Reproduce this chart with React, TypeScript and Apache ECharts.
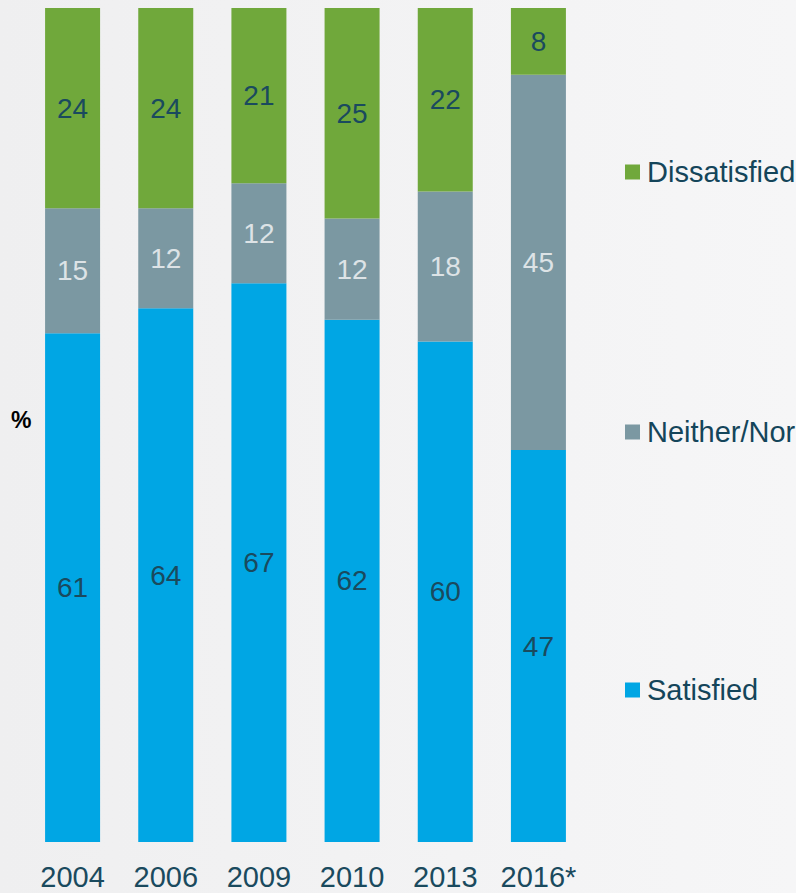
import React, { useEffect, useRef } from "react";
import * as echarts from "echarts";

const years = ["2004", "2006", "2009", "2010", "2013", "2016*"];
const satisfied = [61, 64, 67, 62, 60, 47];
const neither = [15, 12, 12, 12, 18, 45];
const dissatisfied = [24, 24, 21, 25, 22, 8];

const seriesNames = ["Satisfied", "Neither/Nor", "Dissatisfied"];
const seriesColors = ["#00a6e4", "#7b98a2", "#70a83b"];
const labelColors = ["#1a4a5e", "#dde3e6", "#1a4a5e"];

const FONT = "Liberation Sans";

export default function App() {
  const ref = useRef<HTMLDivElement>(null);

  useEffect(() => {
    if (!ref.current) return;
    const chart = echarts.init(ref.current, null, { renderer: "svg" });
    const raw = [satisfied, neither, dissatisfied];
    const totals = years.map((_, i) => raw.reduce((s, arr) => s + arr[i], 0));

    const series = raw.map((arr, k) => ({
      name: seriesNames[k],
      type: "bar",
      stack: "total",
      barWidth: 55,
      itemStyle: { color: seriesColors[k] },
      label: {
        show: true,
        position: "inside",
        fontSize: 28,
        fontFamily: FONT,
        color: labelColors[k],
        formatter: (p: any) => String(arr[p.dataIndex]),
      },
      data: arr.map((v, i) => (v / totals[i]) * 100),
    }));

    const legendTops = [690, 432, 172];
    const legends = seriesNames.map((n, k) => ({
      show: true,
      data: [n],
      orient: "vertical",
      left: 625,
      top: legendTops[k] - 16,
      padding: 0,
      icon: "rect",
      itemWidth: 15,
      itemHeight: 15,
      itemGap: 7,
      selectedMode: false,
      textStyle: {
        fontSize: 29,
        lineHeight: 32,
        fontFamily: FONT,
        color: "#14455a",
        padding: [0, 0, 0, 2],
      },
    }));

    chart.setOption({
      animation: false,
      backgroundColor: {
        type: "linear",
        x: 0,
        y: 0,
        x2: 1,
        y2: 0,
        colorStops: [
          { offset: 0, color: "#efeff0" },
          { offset: 1, color: "#f6f6f7" },
        ],
      },
      grid: { left: 26, width: 559, top: 8, height: 835 },
      xAxis: {
        type: "category",
        data: years,
        axisLine: { show: false },
        axisTick: { show: false },
        axisLabel: {
          interval: 0,
          hideOverlap: false,
          fontSize: 29,
          lineHeight: 32,
          margin: 19,
          fontFamily: FONT,
          color: "#1a4a5e",
        },
      },
      yAxis: {
        type: "value",
        min: 0,
        max: 100,
        show: false,
        splitLine: { show: false },
      },
      legend: legends,
      graphic: [
        {
          type: "text",
          left: 11,
          top: 408,
          style: {
            text: "%",
            fontSize: 23,
            fontWeight: "bold",
            fontFamily: FONT,
            fill: "#000000",
          },
        },
      ],
      series,
    });
    return () => chart.dispose();
  }, []);

  return (
    <div
      ref={ref}
      style={{ position: "fixed", left: 0, top: 0, width: 796, height: 893 }}
    />
  );
}
